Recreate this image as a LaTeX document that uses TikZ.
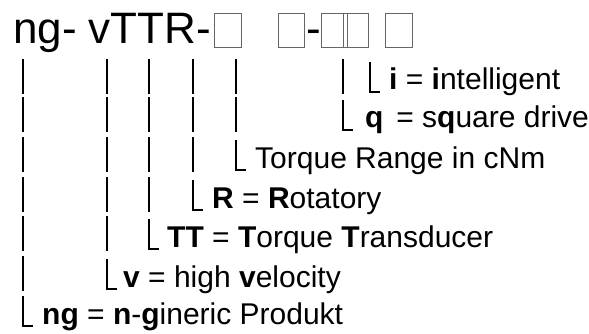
\documentclass[tikz,border=0pt]{standalone}
\usepackage{fontspec}
\setmainfont{Liberation Sans}
\begin{document}
\begin{tikzpicture}[x=1pt,y=-1pt,
  bar/.style={line width=1.1pt},
  tofu/.style={draw=black!60, line width=0.9pt},
  lbl/.style={anchor=base west,inner sep=0pt,font=\fontsize{30}{36}\selectfont},
  ttl/.style={anchor=base west,inner sep=0pt,font=\fontsize{44}{50}\selectfont}]
\useasboundingbox (0,0) rectangle (589,334);
% title
\node[ttl] (t1) at (13,44) {ng- vTTR-};
\draw[tofu] (214,13) rectangle (241,47);
\draw[tofu] (278,13) rectangle (304,47);
\node[ttl] (t2) at (306,44) {-};
\draw[tofu] (321,13) rectangle (347,47);
\draw[tofu] (343,13) rectangle (368,47);
\draw[tofu] (385,13) rectangle (412,47);
% bars and corners
\foreach \x/\n in {23/7,107/6,149/5,193/4,236/3,343/2,370/1}{
  \foreach \k in {1,...,\n}{
    \pgfmathsetmacro{\b}{{90,128,168,208,247,287,324}[\k-1]}
    \ifnum\k<\n
      \draw[bar] (\x,\b-31) -- (\x,\b+4);
    \else
      \draw[bar] (\x,\b-28) -- (\x,\b+2) -- (\x+10,\b+2);
    \fi
  }
}
% labels
\node[lbl] (l1) at (389,90) {\textbf{i} = \textbf{i}ntelligent};
\node[lbl] (l2) at (365,128) {\textbf{q}\hspace{0.15em} = s\textbf{q}uare drive};
\node[lbl] (l3) at (255,168) {Torque Range in cNm};
\node[lbl] (l4) at (212,208) {\textbf{R} = \textbf{R}otatory};
\node[lbl] (l5) at (167,247) {\textbf{TT} = \textbf{T}orque \textbf{T}ransducer};
\node[lbl] (l6) at (123,287) {\textbf{v} = high \textbf{v}elocity};
\node[lbl] (l7) at (42,324) {\textbf{ng} = \textbf{n}-\textbf{g}ineric Produkt};
\end{tikzpicture}
\end{document}
